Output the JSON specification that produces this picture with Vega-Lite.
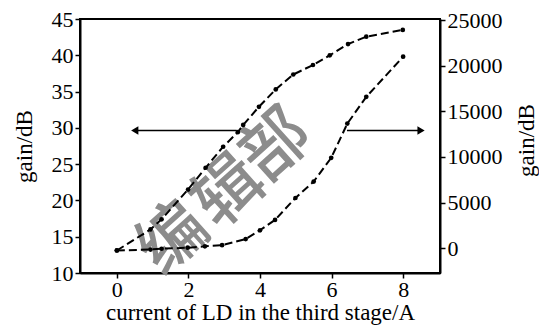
{
  "$schema": "https://vega.github.io/schema/vega-lite/v6.json",
  "width": 360,
  "height": 254,
  "autosize": "none",
  "padding": {"left": 80, "top": 19, "right": 99, "bottom": 52},
  "background": "white",
  "config": {
    "font": "Liberation Serif",
    "view": {"stroke": "black", "strokeWidth": 2},
    "axis": {
      "domainColor": "black", "domainWidth": 2,
      "ticks": true, "tickColor": "black", "tickWidth": 1.5, "tickSize": 5,
      "labelColor": "black", "titleColor": "black",
      "labelFont": "Liberation Serif", "titleFont": "Liberation Serif",
      "labelFontSize": 22, "titleFontSize": 23, "titleFontWeight": "normal",
      "labelOverlap": false, "labelFlush": false,
      "grid": false
    }
  },
  "datasets": {
    "upper": [
      {"x": 0, "gain": 13.1}, {"x": 0.94, "gain": 16.0}, {"x": 1.25, "gain": 17.4},
      {"x": 1.99, "gain": 21.5}, {"x": 2.48, "gain": 24.5}, {"x": 2.97, "gain": 27.4},
      {"x": 3.38, "gain": 29.4}, {"x": 3.53, "gain": 30.4}, {"x": 3.97, "gain": 32.9},
      {"x": 4.44, "gain": 35.3}, {"x": 4.93, "gain": 37.35}, {"x": 5.48, "gain": 38.66},
      {"x": 5.95, "gain": 40.0}, {"x": 6.46, "gain": 41.55}, {"x": 6.97, "gain": 42.56},
      {"x": 7.99, "gain": 43.5}
    ],
    "lower": [
      {"x": 0, "value": -250}, {"x": 0.94, "value": -150}, {"x": 1.25, "value": -60},
      {"x": 1.98, "value": 50}, {"x": 2.46, "value": 200}, {"x": 2.94, "value": 330},
      {"x": 3.6, "value": 1000}, {"x": 4.0, "value": 1960}, {"x": 4.42, "value": 3100},
      {"x": 4.99, "value": 5500}, {"x": 5.5, "value": 7300}, {"x": 5.99, "value": 9900},
      {"x": 6.44, "value": 13650}, {"x": 6.97, "value": 16580}, {"x": 8.0, "value": 20980}
    ],
    "arrows": [
      {"x": 0.55, "x2": 3.35, "gain": 29.64},
      {"x": 6.43, "x2": 8.45, "gain": 29.64}
    ],
    "tips": [
      {"x": 0.5, "gain": 29.64, "dir": "left"},
      {"x": 8.5, "gain": 29.64, "dir": "right"}
    ],
    "mark": [
      {"ch": "编", "x": 1.6, "gain": 14.6},
      {"ch": "辑", "x": 3.16, "gain": 21.0},
      {"ch": "部", "x": 4.48, "gain": 27.4}
    ]
  },
  "layer": [
    {
      "encoding": {
        "x": {"field": "x", "type": "quantitative", "scale": {"domain": [-1.03, 9.03], "nice": false, "zero": false},
          "axis": {"title": "current of LD in the third stage/A", "values": [0, 2, 4, 6, 8], "labelPadding": 1, "titlePadding": 1}},
        "y": {"field": "gain", "type": "quantitative", "scale": {"domain": [10, 45], "nice": false, "zero": false},
          "axis": {"title": "gain/dB", "orient": "left", "values": [10, 15, 20, 25, 30, 35, 40, 45], "labelPadding": 2, "titleAngle": -90, "titleX": -56, "titleY": 127, "titleAlign": "center", "titleBaseline": "middle"}}
      },
      "layer": [
        {
          "data": {"name": "mark"},
          "mark": {"type": "text", "font": "Noto Sans CJK SC", "fontSize": 68, "fontWeight": 500, "angle": -42, "align": "center", "baseline": "middle", "color": "#8c8c8c"},
          "encoding": {"text": {"field": "ch"}}
        },
        {
          "data": {"name": "upper"},
          "mark": {"type": "line", "color": "black", "strokeWidth": 2, "strokeDash": [8, 4]}
        },
        {
          "data": {"name": "upper"},
          "mark": {"type": "point", "filled": true, "color": "black", "size": 22, "opacity": 1}
        },
        {
          "data": {"name": "arrows"},
          "mark": {"type": "rule", "color": "black", "strokeWidth": 1.5},
          "encoding": {"x2": {"field": "x2"}}
        },
        {
          "data": {"name": "tips"},
          "mark": {"type": "point", "filled": true, "color": "black", "size": 70, "opacity": 1},
          "encoding": {
            "shape": {"field": "dir", "type": "nominal", "scale": {"domain": ["left", "right"], "range": ["triangle-left", "triangle-right"]}, "legend": null}
          }
        }
      ]
    },
    {
      "data": {"name": "lower"},
      "encoding": {
        "x": {"field": "x", "type": "quantitative"},
        "y": {"field": "value", "type": "quantitative", "scale": {"domain": [-2720, 25110], "nice": false, "zero": false},
          "axis": {"title": "gain/dB", "orient": "right", "format": "d", "values": [0, 5000, 10000, 15000, 20000, 25000], "labelPadding": 2, "titleAngle": -90, "titleX": 86, "titleY": 121, "titleAlign": "center", "titleBaseline": "middle"}}
      },
      "layer": [
        {
          "mark": {"type": "line", "color": "black", "strokeWidth": 2, "strokeDash": [8, 4]}
        },
        {
          "mark": {"type": "point", "filled": true, "color": "black", "size": 22, "opacity": 1}
        }
      ]
    }
  ],
  "resolve": {"scale": {"y": "independent"}}
}
